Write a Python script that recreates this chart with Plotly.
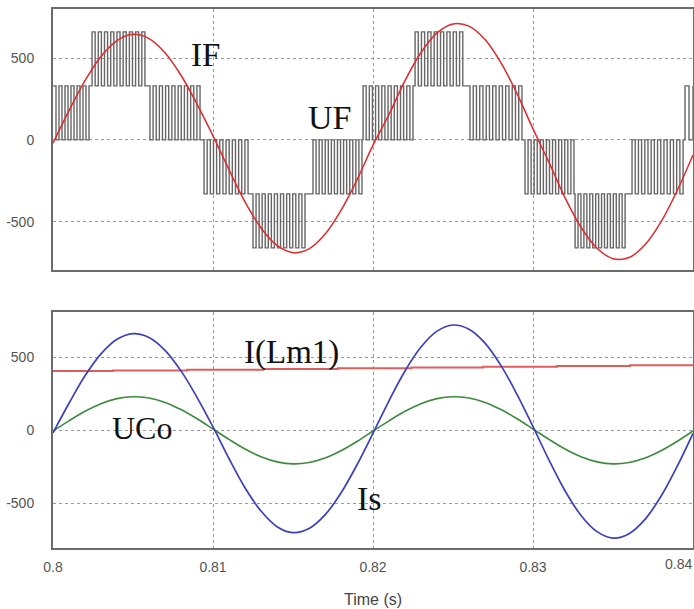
import plotly.graph_objects as go

# ---------------- data ----------------
t_samples = [round(0.8 + 0.001 * k, 3) for k in range(41)]

# Top panel: inverter current IF (A)
if_values = [-20, 179, 362, 510, 607, 645, 619, 533, 395, 219, 25,
             -182, -379, -538, -645, -689, -666, -577, -431, -244, -32,
             155, 362, 534, 654, 709, 695, 613, 471, 283, 67,
             -137, -353, -534, -662, -726, -719, -641, -501, -312, -92]

# Top panel: multilevel PWM voltage UF, one row per switching segment
seg_start = [0.8, 0.80244, 0.80606, 0.80944, 0.8125, 0.81625, 0.81938,
             0.82263, 0.82606, 0.8295, 0.83263, 0.83619, 0.8395]
seg_end = [0.80225, 0.80594, 0.80919, 0.81219, 0.81594, 0.81931, 0.8225,
           0.82581, 0.82931, 0.83256, 0.83594, 0.83938, 0.84]
seg_low = [0, 330, 0, -330, -660, -330, 0, 330, 0, -330, -660, -330, 0]
seg_high = [330, 660, 330, 0, -330, 0, 330, 660, 330, 0, -330, 0, 330]
seg_pulses = [6, 9, 8, 7, 9, 8, 8, 8, 8, 8, 9, 8, 1]
gap_level = [330, 330, 0, -330, -330, 0, 330, 330, 0, -330, -330, 0, 330]

# Bottom panel
is_values = [-20, 183, 371, 521, 621, 660, 634, 546, 405, 224, 21,
             -195, -395, -555, -662, -703, -675, -581, -431, -238, -22,
             200, 404, 568, 677, 719, 690, 595, 441, 244, 23,
             -206, -416, -585, -696, -740, -710, -612, -454, -251, -23]
uco_values = [-7, 63, 128, 180, 215, 228, 219, 189, 140, 77, 7,
              -64, -130, -183, -218, -232, -223, -192, -142, -79, -7,
              63, 128, 180, 215, 228, 219, 189, 140, 77, 7,
              -64, -130, -183, -218, -232, -223, -192, -142, -79, -7]
ilm_t = [0.8, 0.80375, 0.80838, 0.81313, 0.8178, 0.8224, 0.82688, 0.8315, 0.83606, 0.84]
ilm_values = [404, 408, 413, 418, 423, 428, 433, 438, 444, 448]

x_ticks = [0.8, 0.81, 0.82, 0.83, 0.84]
x_tick_text = ["0.8", "0.81", "0.82", "0.83", "0.84"]
y_ticks = [-500, 0, 500]
y_tick_text = ["-500", "0", "500"]

# ---------------- build PWM step sequence ----------------
pwm_x, pwm_y = [], []
prev = 0
for s, e, lo, hi, n, g in zip(seg_start, seg_end, seg_low, seg_high, seg_pulses, gap_level):
    a = hi if prev == lo else lo
    b = lo if a == hi else hi
    T = (e - s) / n
    for i in range(n):
        pwm_x += [s + i * T, s + i * T + T / 2]
        pwm_y += [a, b]
    pwm_x.append(e)
    pwm_y.append(g)
    prev = g

fig = go.Figure()

fig.add_trace(go.Scatter(x=pwm_x, y=pwm_y, mode="lines", line=dict(color="#666666", width=1.4, shape="hv"),
                         xaxis="x", yaxis="y", showlegend=False, hoverinfo="skip"))
fig.add_trace(go.Scatter(x=t_samples, y=if_values, mode="lines",
                         line=dict(color="#e3282c", width=1.5, shape="spline"),
                         xaxis="x", yaxis="y", showlegend=False))

fig.add_trace(go.Scatter(x=ilm_t, y=ilm_values, mode="lines", line=dict(color="#e25c5c", width=2, shape="hv"),
                         xaxis="x2", yaxis="y2", showlegend=False))
fig.add_trace(go.Scatter(x=t_samples, y=uco_values, mode="lines",
                         line=dict(color="#3c8c3c", width=1.6, shape="spline"),
                         xaxis="x2", yaxis="y2", showlegend=False))
fig.add_trace(go.Scatter(x=t_samples, y=is_values, mode="lines",
                         line=dict(color="#3d3fc0", width=1.7, shape="spline"),
                         xaxis="x2", yaxis="y2", showlegend=False))

tick_font = dict(family="Liberation Sans, Arial", size=14, color="#555555")
axis_common = dict(showline=True, linecolor="#6b6b6b", linewidth=2, mirror=True, automargin=False,
                   showgrid=True, gridcolor="#9a9a9a", griddash="dot", gridwidth=1,
                   zeroline=False, ticks="", tickfont=tick_font)

fig.update_layout(
    width=694, height=609,
    margin=dict(l=53, r=1, t=9, b=61),
    paper_bgcolor="white", plot_bgcolor="white",
    xaxis=dict(domain=[0, 1], range=[0.8, 0.84], anchor="y", tickvals=x_ticks, ticktext=x_tick_text,
               showticklabels=False, **axis_common),
    yaxis=dict(domain=[0.5158, 1], range=[-795, 800], anchor="x", tickvals=y_ticks, ticktext=y_tick_text,
               ticklabelstandoff=14, **axis_common),
    xaxis2=dict(domain=[0, 1], range=[0.8, 0.84], anchor="y2", tickvals=x_ticks[:-1], ticktext=x_tick_text[:-1],
                ticklabelstandoff=5, **axis_common),
    yaxis2=dict(domain=[0, 0.4378], range=[-808, 808], anchor="x2", tickvals=y_ticks, ticktext=y_tick_text,
                ticklabelstandoff=14, **axis_common),
)

# last x tick label sits flush with the right edge, as in the reference
fig.add_annotation(x=x_ticks[-1], y=0, xref="x2", yref="paper", text=x_tick_text[-1], showarrow=False,
                   xanchor="right", yanchor="top", yshift=-6, xshift=1, font=tick_font)

serif = "Liberation Serif, Times New Roman, serif"
labels = [
    ("IF", 0.80956, 518, "x", "y", 33),
    ("UF", 0.81725, 134, "x", "y", 34),
    ("I(Lm1)", 0.81488, 534, "x2", "y2", 33),
    ("UCo", 0.80556, 14, "x2", "y2", 32),
    ("Is", 0.81981, -466, "x2", "y2", 34),
]
for txt, x, y, xr, yr, sz in labels:
    fig.add_annotation(x=x, y=y, xref=xr, yref=yr, text=txt, showarrow=False,
                       font=dict(family=serif, size=sz, color="#111111"))

fig.add_annotation(x=0.5, y=-0.095, xref="paper", yref="paper", text="Time (s)", showarrow=False,
                   xanchor="center", yanchor="middle",
                   font=dict(family="Liberation Sans, Arial", size=16, color="#444444"))

fig.write_html("out.html", config={"displayModeBar": False},
               post_script="document.body.style.margin='0';document.body.style.overflow='hidden';")
